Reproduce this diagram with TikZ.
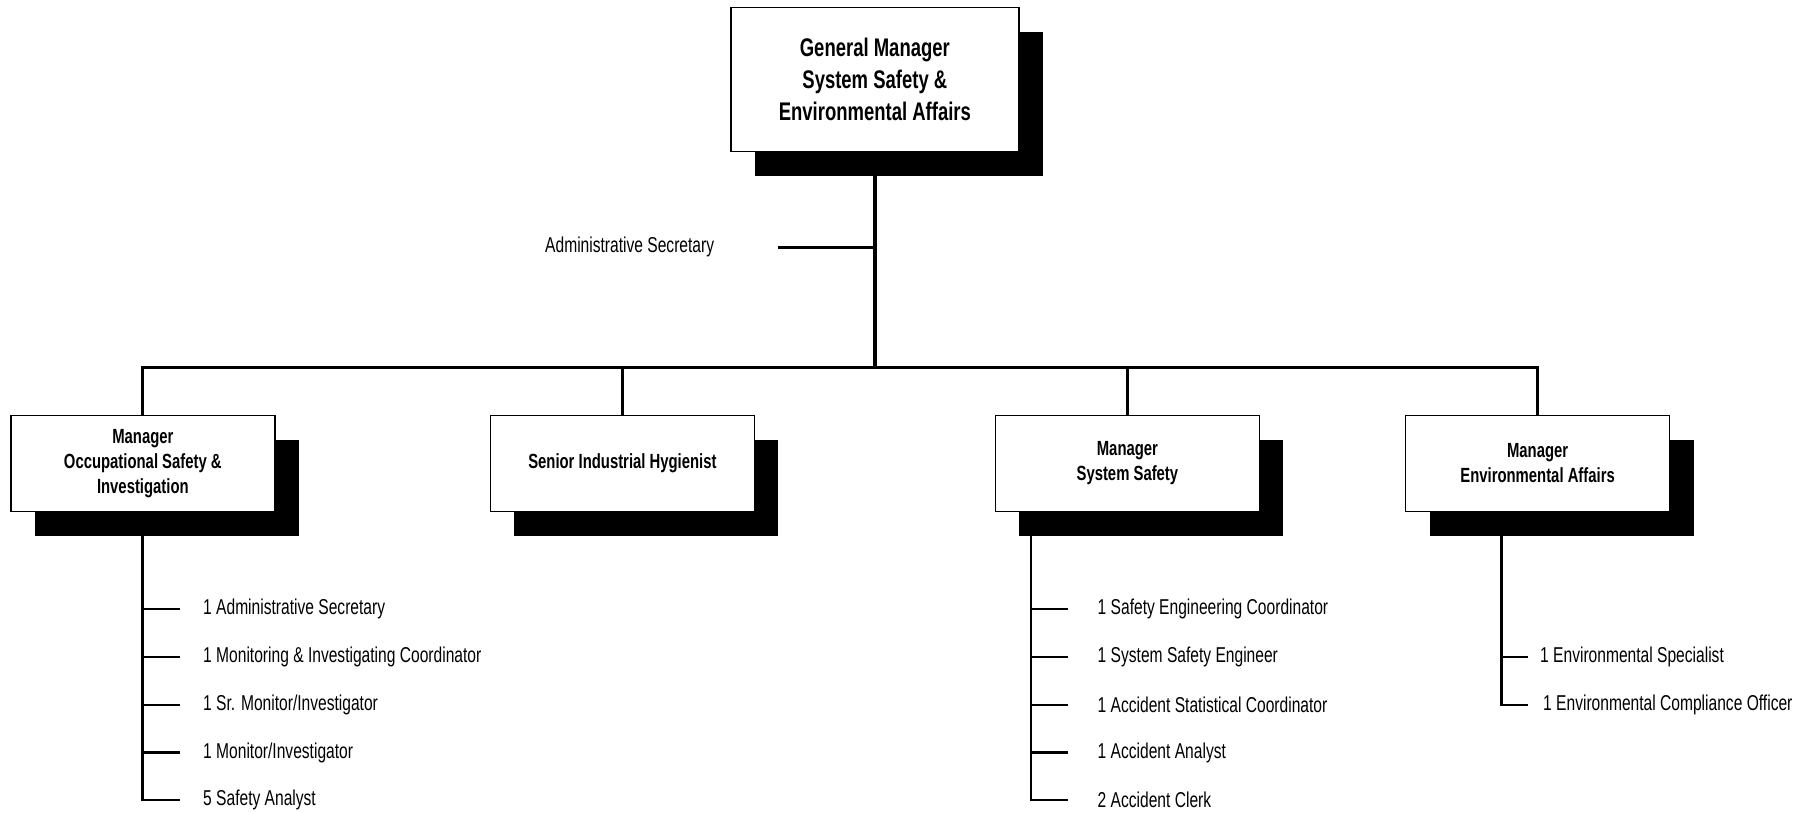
\documentclass[tikz,border=0pt]{standalone}
\usepackage{fontspec}
\setmainfont{Liberation Sans}[FakeStretch=0.725]
\usetikzlibrary{shadows}

\begin{document}
\begin{tikzpicture}[x=1pt,y=-1pt,
  shadowed/.style={draw=black, line width=1.4pt, fill=white, inner sep=0pt, align=center,
    drop shadow={shadow xshift=24pt, shadow yshift=-24pt, fill=black, opacity=1}},
  unitbox/.style={shadowed, minimum width=264pt, minimum height=96pt,
    font=\fontsize{20.5}{25}\selectfont\bfseries},
  headbox/.style={shadowed, minimum width=288pt, minimum height=144pt,
    font=\fontsize{25.5}{32}\selectfont\bfseries},
  staff/.style={anchor=west, inner sep=0pt, font=\fontsize{21.5}{26}\selectfont},
  conn/.style={line width=2.9pt, line cap=butt},
  trunk/.style={line width=3.4pt}
]
\useasboundingbox (0,0) rectangle (1809,812);

% head of the department
\node[headbox] (gm) at (874.85,79.5) {General Manager\\System Safety \&\\Environmental Affairs};

% administrative secretary attached to the trunk
\node[staff] (adm) at (545,247) {Administrative Secretary};
\coordinate (admtick) at (778,247.7);
\coordinate (bus) at (0,367.3);

% units
\node[unitbox] (occ) at (142.85,463.7) {Manager\\Occupational Safety \&\\Investigation};
\node[unitbox] (hyg) at (622.4,463.5) {Senior Industrial Hygienist};
\node[unitbox] (sys) at (1127.4,463.5) {Manager\\System Safety};
\node[unitbox] (env) at (1537.6,463.5) {Manager\\Environmental Affairs};

% trunk and bus
\draw[trunk] (gm.south) -- (gm.south |- bus);
\draw[conn] (admtick) -- (gm.south |- admtick);
\draw[conn] (occ.north) -- (occ.north |- bus) -- (env.north |- bus) -- (env.north);
\draw[conn] (hyg.north) -- (hyg.north |- bus);
\draw[conn] (sys.north) -- (sys.north |- bus);

% staff of occupational safety
\node[staff] (o1) at (203,609) {1 Administrative Secretary};
\node[staff] (o2) at (203,657) {1 Monitoring \& Investigating Coordinator};
\node[staff] (o3) at (203,705) {1 Sr. Monitor/Investigator};
\node[staff] (o4) at (203,752.5) {1 Monitor/Investigator};
\node[staff] (o5) at (203,800) {5 Safety Analyst};
\draw[conn] (occ.south) -- (occ.south |- o5.west) -- ([xshift=-23pt]o5.west);
\foreach \n in {o1,o2,o3,o4}
  \draw[conn] (occ.south |- \n.west) -- ([xshift=-23pt]\n.west);

% staff of system safety
\coordinate (sysv) at ([xshift=-96.4pt]sys.south);
\node[staff] (s1) at (1097.5,609) {1 Safety Engineering Coordinator};
\node[staff] (s2) at (1097.5,657) {1 System Safety Engineer};
\node[staff] (s3) at (1097.5,705) {1 Accident Statistical Coordinator};
\node[staff] (s4) at (1097.5,752.5) {1 Accident Analyst};
\node[staff] (s5) at (1097.5,800) {2 Accident Clerk};
\draw[conn] (sysv) -- (sysv |- s5.west) -- ([xshift=-30pt]s5.west);
\foreach \n in {s1,s2,s3,s4}
  \draw[conn] (sysv |- \n.west) -- ([xshift=-30pt]\n.west);

% staff of environmental affairs
\coordinate (envv) at ([xshift=-36pt]env.south);
\node[staff] (e1) at (1540,657) {1 Environmental Specialist};
\node[staff] (e2) at (1543,705) {1 Environmental Compliance Officer};
\draw[conn] (envv) -- (envv |- e2.west) -- ([xshift=-15.5pt]e2.west);
\draw[conn] (envv |- e1.west) -- ([xshift=-12.5pt]e1.west);
\end{tikzpicture}
\end{document}
